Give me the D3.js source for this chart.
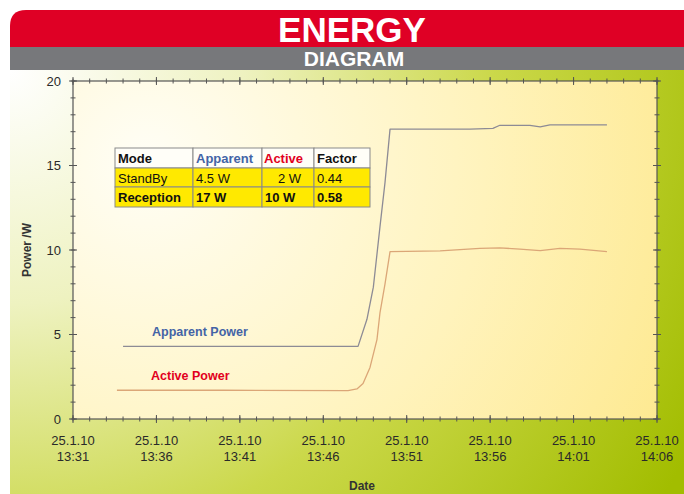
<!DOCTYPE html>
<meta charset="utf-8">
<script src="https://d3js.org/d3.v7.min.js"></script>
<style>
  body { margin: 0; background: #fff; }
  text { font-family: "Liberation Sans", Arial, sans-serif; }
</style>
<div id="chart"></div>
<script>
// readings, clock time on 25.1.10
var apparentTimes = ["13:34:00", "13:40:00", "13:46:00", "13:48:05", "13:48:37", "13:49:00", "13:49:24", "13:49:42", "13:50:00",
                     "13:52:24", "13:54:48", "13:56:10", "13:56:35", "13:58:23", "13:59:00", "13:59:35", "14:03:00"];
var apparentValues = [4.3, 4.3, 4.3, 4.3, 5.9, 7.8, 11.4, 14.0, 17.15,
                      17.15, 17.15, 17.2, 17.38, 17.38, 17.28, 17.4, 17.4];
var activeTimes = ["13:33:38", "13:40:00", "13:47:29", "13:48:01", "13:48:23", "13:48:48", "13:49:13", "13:49:24", "13:49:42", "13:50:00",
                   "13:53:00", "13:55:23", "13:56:35", "13:57:47", "13:59:00", "14:00:11", "14:01:23", "14:03:00"];
var activeValues = [1.7, 1.7, 1.68, 1.78, 2.1, 3.05, 4.7, 6.3, 8.0, 9.9,
                    9.95, 10.1, 10.13, 10.05, 9.96, 10.1, 10.05, 9.9];
var yTicks = [0, 5, 10, 15, 20];
var tableHead = ["Mode", "Apparent", "Active", "Factor"];
var tableRows = [["StandBy", "4.5 W", "2 W", "0.44"], ["Reception", "17 W", "10 W", "0.58"]];

var W = 684, H = 494;
var margin = {top: 81, right: 27, bottom: 75, left: 73},
    width = W - margin.left - margin.right,
    height = H - margin.top - margin.bottom;

var parse = d3.timeParse("%Y-%m-%d %H:%M:%S");
function toDate(s) { return parse("2010-01-25 " + s); }

var svg = d3.select("#chart").append("svg")
    .attr("width", W).attr("height", H);

var defs = svg.append("defs");
var bgGrad = defs.append("radialGradient").attr("id", "bg")
    .attr("gradientUnits", "userSpaceOnUse")
    .attr("cx", 10).attr("cy", 70).attr("r", 780);
bgGrad.append("stop").attr("offset", "0").attr("stop-color", "#ffffff");
bgGrad.append("stop").attr("offset", "0.3").attr("stop-color", "#eef2c0");
bgGrad.append("stop").attr("offset", "0.62").attr("stop-color", "#cbd84a");
bgGrad.append("stop").attr("offset", "1").attr("stop-color", "#a2bd00");

var plotGrad = defs.append("radialGradient").attr("id", "plotbg")
    .attr("gradientUnits", "userSpaceOnUse")
    .attr("cx", margin.left).attr("cy", margin.top).attr("r", 680);
plotGrad.append("stop").attr("offset", "0").attr("stop-color", "#fffef6");
plotGrad.append("stop").attr("offset", "0.5").attr("stop-color", "#fff3bc");
plotGrad.append("stop").attr("offset", "1").attr("stop-color", "#fde57e");

// background + header
svg.append("rect").attr("x", 10).attr("y", 70).attr("width", W - 10).attr("height", H - 70)
    .attr("fill", "url(#bg)");
svg.append("path")
    .attr("d", "M10,47 L10,26 Q10,10 26,10 L684,10 L684,47 Z")
    .attr("fill", "#df0025");
svg.append("rect").attr("x", 10).attr("y", 47).attr("width", W - 10).attr("height", 23)
    .attr("fill", "#77787b");
svg.append("text").attr("x", 352).attr("y", 42).attr("text-anchor", "middle")
    .attr("fill", "#fff").style("font-size", "35px").style("font-weight", "bold")
    .text("ENERGY");
svg.append("text").attr("x", 354).attr("y", 66).attr("text-anchor", "middle")
    .attr("fill", "#fff").style("font-size", "21px").style("font-weight", "bold")
    .text("DIAGRAM");

var g = svg.append("g").attr("transform", "translate(" + margin.left + "," + margin.top + ")");
g.append("rect").attr("width", width).attr("height", height).attr("fill", "url(#plotbg)");

var t0 = toDate("13:31:00"), t1 = toDate("14:06:00");
var x = d3.scaleTime().domain([t0, t1]).range([0, width]);
var y = d3.scaleLinear().domain([0, 20]).range([height, 0]);

var tickColor = "#555";
var minorX = d3.timeMinute.range(t0, toDate("14:06:30"));
var majorX = d3.timeMinute.range(t0, toDate("14:06:30"), 5);
var minorY = d3.range(0, 21, 1);

// frame
g.append("rect").attr("width", width).attr("height", height)
    .attr("fill", "none").attr("stroke", tickColor).attr("stroke-width", 1.2);

// ticks on all four sides
function tickSet(vals, isMajor) {
  var len = isMajor ? 4 : 2.5;
  g.append("g").selectAll("line").data(vals).join("line")
    .attr("x1", function(d) { return x(d); }).attr("x2", function(d) { return x(d); })
    .attr("y1", height - len).attr("y2", height + len)
    .attr("stroke", tickColor);
  g.append("g").selectAll("line").data(vals).join("line")
    .attr("x1", function(d) { return x(d); }).attr("x2", function(d) { return x(d); })
    .attr("y1", -len).attr("y2", len)
    .attr("stroke", tickColor);
}
tickSet(minorX, false);
tickSet(majorX, true);

function tickSetY(vals, isMajor) {
  var len = isMajor ? 4 : 2.5;
  g.append("g").selectAll("line").data(vals).join("line")
    .attr("x1", -len).attr("x2", len)
    .attr("y1", function(d) { return y(d); }).attr("y2", function(d) { return y(d); })
    .attr("stroke", tickColor);
  g.append("g").selectAll("line").data(vals).join("line")
    .attr("x1", width - len).attr("x2", width + len)
    .attr("y1", function(d) { return y(d); }).attr("y2", function(d) { return y(d); })
    .attr("stroke", tickColor);
}
tickSetY(minorY, false);
tickSetY(yTicks, true);

// tick labels
g.append("g").selectAll("text").data(yTicks).join("text")
    .attr("x", -12).attr("y", function(d) { return y(d); }).attr("dy", "0.36em")
    .attr("text-anchor", "end").attr("fill", "#2a2a2a")
    .style("font-size", "13px")
    .text(function(d) { return d; });

var xl = g.append("g").selectAll("text").data(majorX).join("text")
    .attr("text-anchor", "middle").attr("fill", "#2a2a2a")
    .style("font-size", "13px")
    .attr("transform", function(d) { return "translate(" + x(d) + "," + (height + 26) + ")"; });
xl.append("tspan").attr("x", 0).attr("y", 0).text("25.1.10");
xl.append("tspan").attr("x", 0).attr("y", 16).text(function(d) { return d3.timeFormat("%H:%M")(d); });

svg.append("text").attr("x", 362).attr("y", 490).attr("text-anchor", "middle")
    .attr("fill", "#333").style("font-size", "12px").style("font-weight", "bold")
    .text("Date");
svg.append("text").attr("transform", "translate(31,250) rotate(-90)").attr("text-anchor", "middle")
    .attr("fill", "#333").style("font-size", "12px").style("font-weight", "bold")
    .text("Power /W");

// lines
var line = d3.line()
    .x(function(d) { return x(d.t); })
    .y(function(d) { return y(d.v); });
var apparent = apparentTimes.map(function(t, i) { return {t: toDate(t), v: apparentValues[i]}; });
var active = activeTimes.map(function(t, i) { return {t: toDate(t), v: activeValues[i]}; });

g.append("path").datum(apparent).attr("d", line)
    .attr("fill", "none").attr("stroke", "#8d8b95").attr("stroke-width", 1.3)
    .attr("stroke-linejoin", "round");
g.append("path").datum(active).attr("d", line)
    .attr("fill", "none").attr("stroke", "#dba677").attr("stroke-width", 1.3)
    .attr("stroke-linejoin", "round");

// in-plot labels
svg.append("text").attr("x", 152).attr("y", 336).attr("fill", "#4464a6")
    .style("font-size", "12.5px").style("font-weight", "bold").text("Apparent Power");
svg.append("text").attr("x", 151).attr("y", 380).attr("fill", "#e2001d")
    .style("font-size", "12.5px").style("font-weight", "bold").text("Active Power");

// table
var colX = [115, 193, 262, 314, 370];
var rowY = [148, 168, 187, 207];
var headColors = ["#111", "#4464a6", "#e2001d", "#111"];
var tbl = svg.append("g");
[tableHead].concat(tableRows).forEach(function(row, r) {
  row.forEach(function(cell, c) {
    tbl.append("rect")
      .attr("x", colX[c]).attr("y", rowY[r])
      .attr("width", colX[c + 1] - colX[c]).attr("height", rowY[r + 1] - rowY[r])
      .attr("fill", r === 0 ? "#fffef8" : "#ffe900")
      .attr("stroke", "#8a8a8a").attr("stroke-width", 1);
    var cx = c === 2 ? colX[c] + 16 : colX[c] + 3;
    if (c === 2 && r === 0) cx = colX[c] + 2;
    if (c === 2 && r === 2) cx = colX[c] + 3;
    tbl.append("text")
      .attr("x", cx).attr("y", rowY[r] + 14.5)
      .attr("fill", r === 0 ? headColors[c] : "#111")
      .style("font-size", "13px")
      .style("font-weight", r === 1 ? "normal" : "bold")
      .text(cell);
  });
});
</script>
